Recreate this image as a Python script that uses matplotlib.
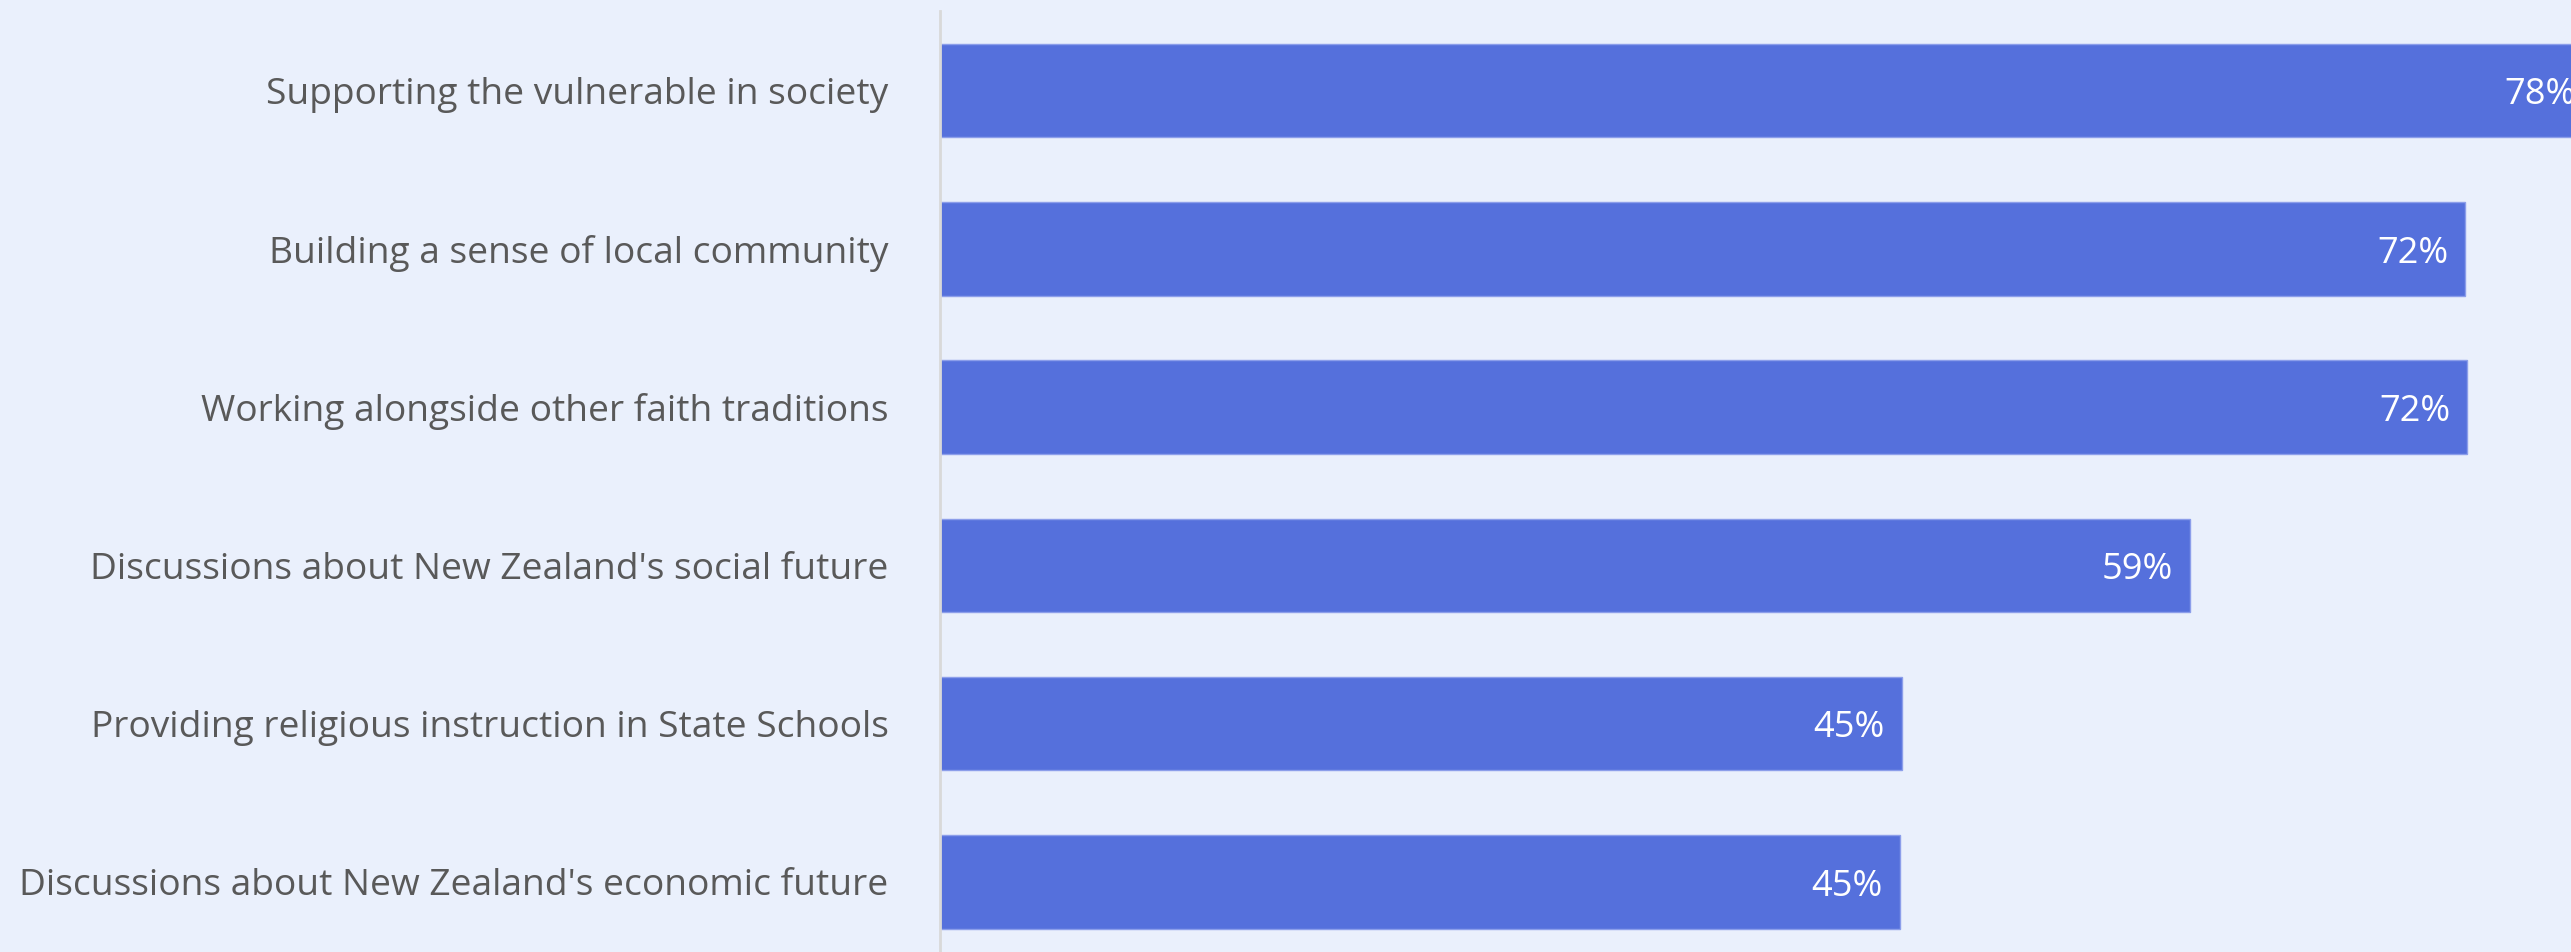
import matplotlib.pyplot as plt

# survey results, top to bottom
categories = ["Supporting the vulnerable in society",
              "Building a sense of local community",
              "Working alongside other faith traditions",
              "Discussions about New Zealand's social future",
              "Providing religious instruction in State Schools",
              "Discussions about New Zealand's economic future"]
values = [78, 72, 72.1, 59, 45.4, 45.3]
labels = ["78%", "72%", "72%", "59%", "45%", "45%"]

bg = "#EAF0FC"
bar_color = "#5570DC"

fig = plt.figure(figsize=(25.71, 9.52), dpi=100)
fig.patch.set_facecolor(bg)
ax = fig.add_axes([940 / 2571, 0, 1631 / 2571, 940.5 / 952])
ax.set_facecolor(bg)

ypos = list(range(len(categories)))
ax.barh(ypos, values, height=0.59, color=bar_color, edgecolor="#8C9EEA", linewidth=1)

# value labels inside the bar ends
for y, v, lab in zip(ypos, values, labels):
    ax.text(v - 0.8, y + 0.03, lab, ha="right", va="center", color="white",
            fontsize=26, family="Open Sans")

ax.set_xlim(0, 77)
ax.set_ylim(5.443, -0.5)
ax.set_yticks(ypos)
ax.set_yticklabels(categories, fontsize=26.7, color="#595959", family="Open Sans")
ax.tick_params(axis="y", length=0, pad=37)
ax.set_xticks([])
for s in ["top", "right", "bottom"]:
    ax.spines[s].set_visible(False)
ax.spines["left"].set_color("#D9D9D9")
ax.spines["left"].set_linewidth(2)

plt.savefig("out.png", dpi=100, facecolor=bg)
